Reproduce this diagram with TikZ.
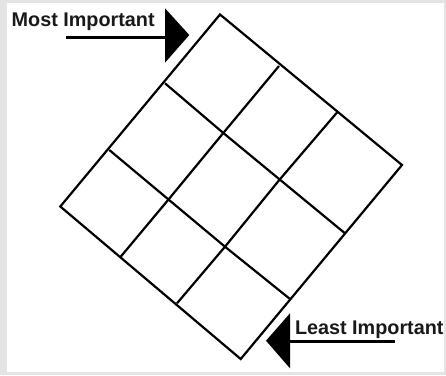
\documentclass[tikz,border=0pt]{standalone}
\usepackage{fontspec}
\setmainfont{Liberation Sans}
\definecolor{framegray}{RGB}{228,228,228}
\definecolor{inkgray}{RGB}{25,25,25}
\begin{document}
\begin{tikzpicture}[x=1pt,y=-1pt,
  gridline/.style={line width=2.2pt, line join=miter, line cap=butt},
  shaft/.style={line width=3pt},
  head/.style={fill=black},
  lbl/.style={anchor=base west, inner sep=0pt, text=inkgray,
    font=\bfseries\fontsize{19.8}{22}\selectfont}]
\useasboundingbox (0,0) rectangle (446,375);
\fill[framegray] (0,0) rectangle (446,375);
\fill[white] (7,3) rectangle (444,372);
% grid points: g<row><col>, row from top corner toward left, col toward right
\coordinate (g00) at (220,14.5);
\coordinate (g01) at (279,66);
\coordinate (g02) at (337,112.5);
\coordinate (g03) at (402,165);
\coordinate (g10) at (165,83.3);
\coordinate (g11) at (223.3,133);
\coordinate (g12) at (279.7,179.5);
\coordinate (g13) at (345,233.3);
\coordinate (g20) at (109.3,150);
\coordinate (g21) at (168.5,199.5);
\coordinate (g22) at (225,246.7);
\coordinate (g23) at (290,299);
\coordinate (g30) at (60.3,206.5);
\coordinate (g31) at (120.7,256.7);
\coordinate (g32) at (177,303.3);
\coordinate (g33) at (240.7,359);
% outline
\draw[gridline] (g00) -- (g03) -- (g33) -- (g30) -- cycle;
% inner lines
\draw[gridline] (g10) -- (g11) -- (g12) -- (g13);
\draw[gridline] (g20) -- (g21) -- (g22) -- (g23);
\draw[gridline] (g01) -- (g11) -- (g21) -- (g31);
\draw[gridline] (g02) -- (g12) -- (g22) -- (g32);
% Most Important arrow
\coordinate (ms) at (66,37);
\coordinate (me) at (166,37);
\coordinate (mt1) at (165,8.3);
\coordinate (mt2) at (189.3,35);
\coordinate (mt3) at (165,62.7);
\draw[shaft] (ms) -- (me);
\fill[head] (mt1) -- (mt2) -- (mt3) -- cycle;
\node[lbl] (most) at (11.5,26.7) {Most Important};
% Least Important arrow
\coordinate (ls) at (395,341.7);
\coordinate (le) at (289,341.7);
\coordinate (lt1) at (290,313.3);
\coordinate (lt2) at (266,340.7);
\coordinate (lt3) at (290,368.3);
\draw[shaft] (ls) -- (le);
\fill[head] (lt1) -- (lt2) -- (lt3) -- cycle;
\node[lbl] (least) at (294.8,334) {Least Important};
\end{tikzpicture}
\end{document}
